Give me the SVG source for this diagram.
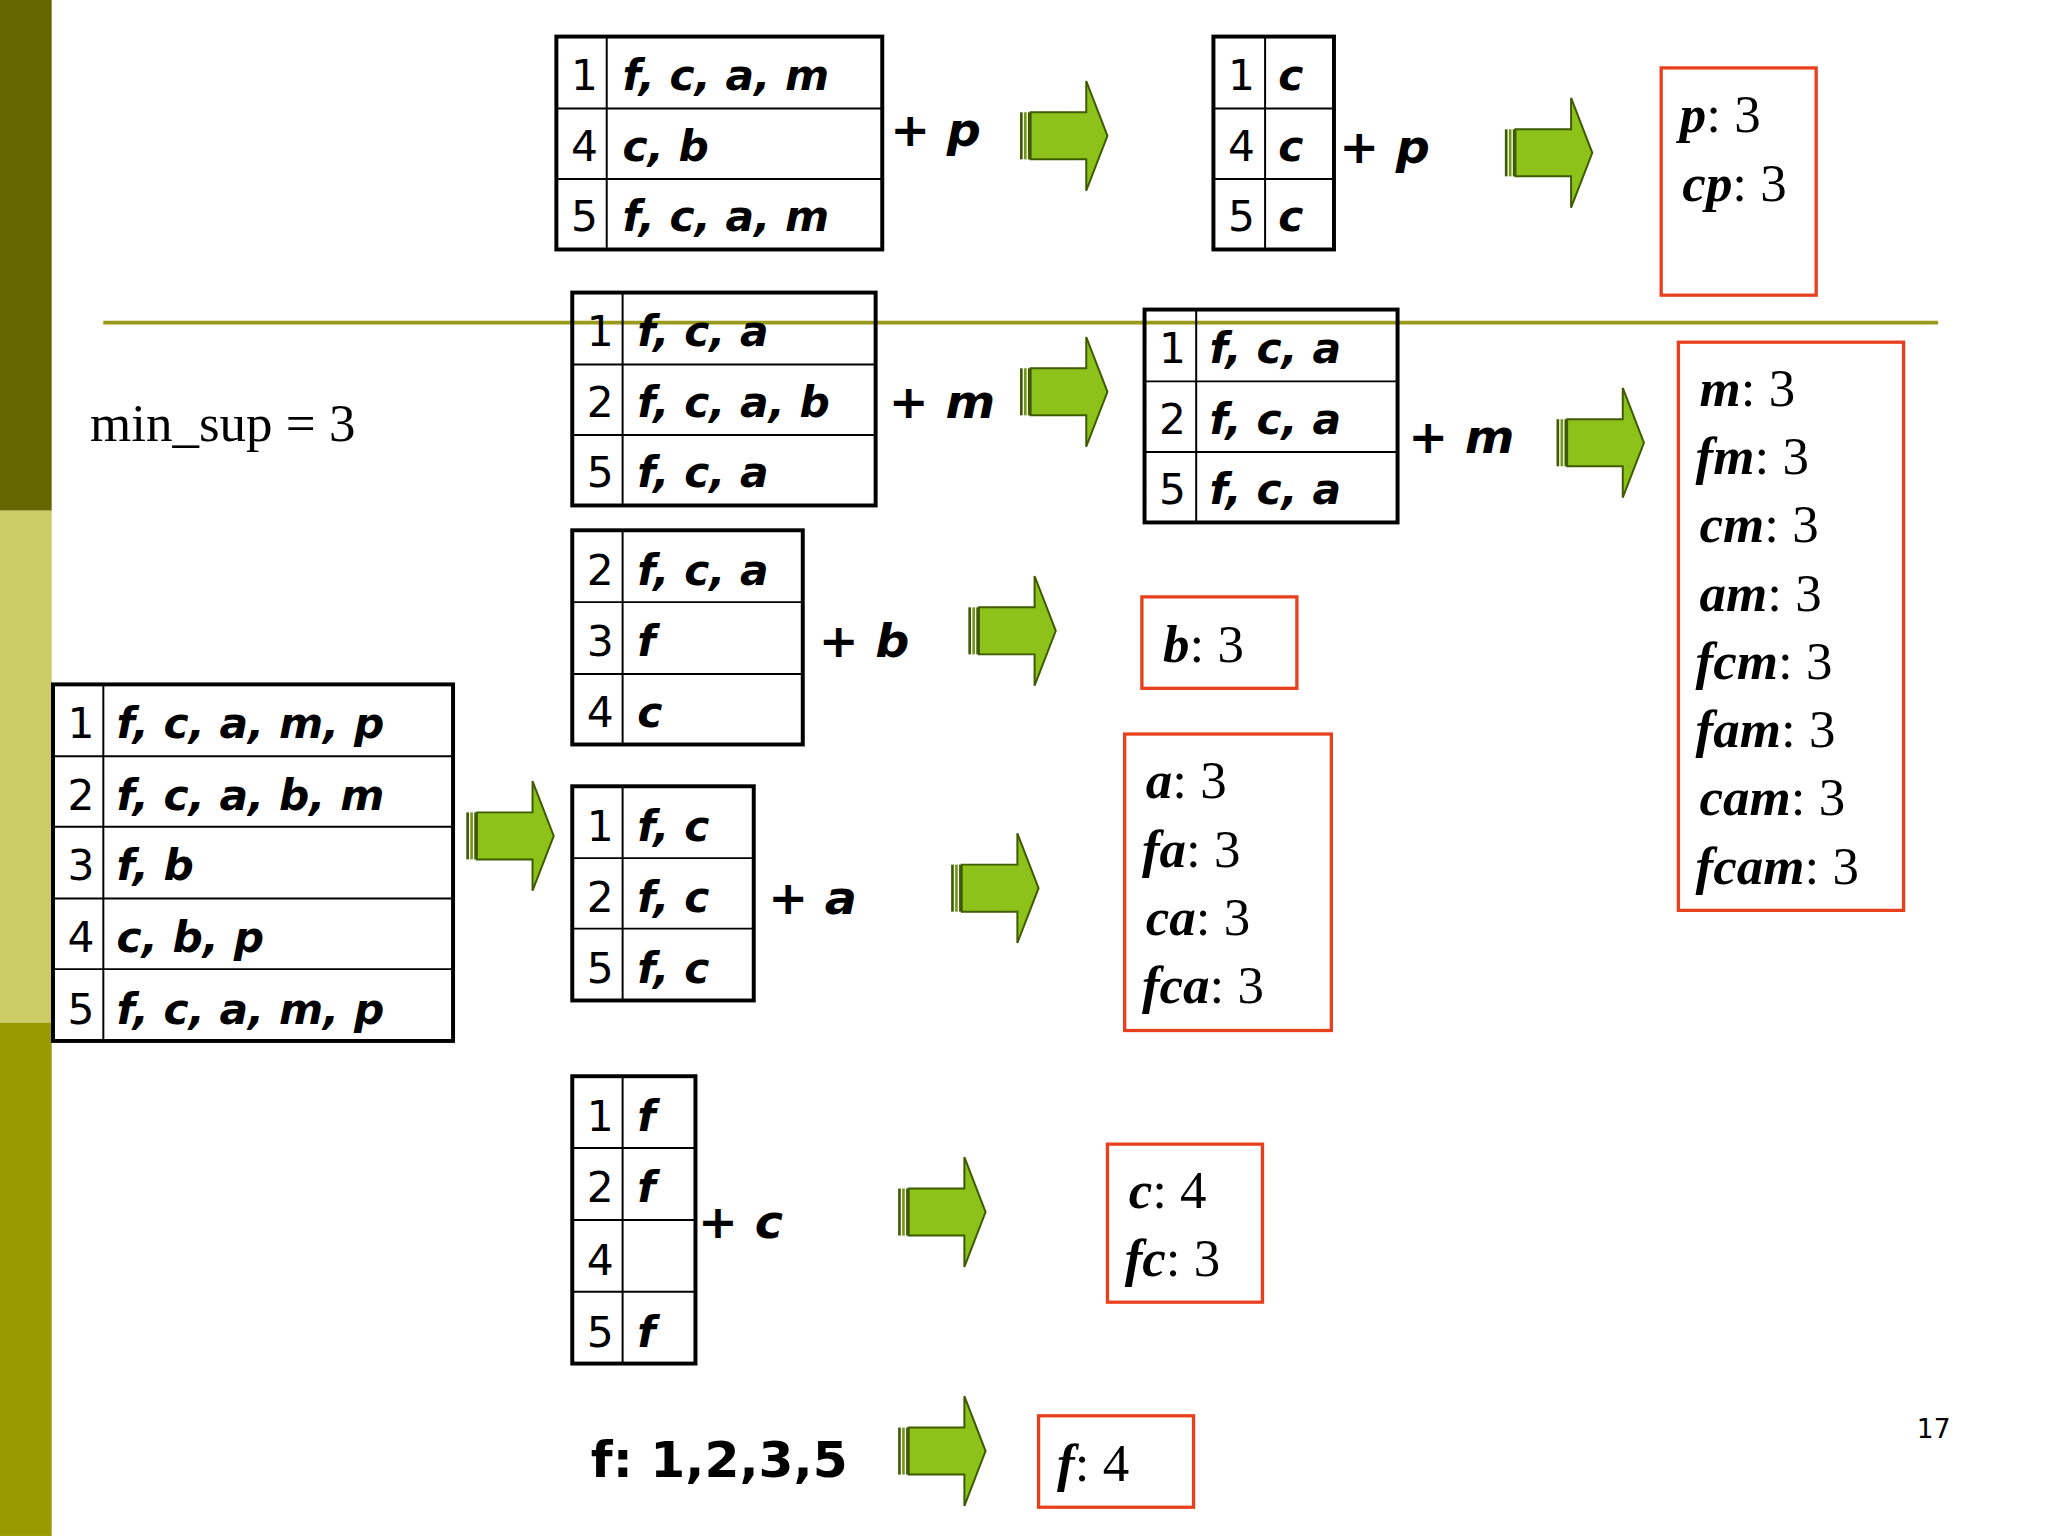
<svg xmlns="http://www.w3.org/2000/svg" xmlns:xlink="http://www.w3.org/1999/xlink" width="2048" height="1536" viewBox="0 0 2048 1536">
<style>
.tb{fill:none;stroke:#000;stroke-width:3}
.ln{stroke:#000;stroke-width:1.5}
.n{font-family:"DejaVu Sans",sans-serif;font-size:32px;fill:#000}
.it{font-family:"DejaVu Sans",sans-serif;font-size:32px;font-weight:bold;font-style:italic;fill:#000}
.pl{font-family:"DejaVu Sans",sans-serif;font-size:36px;font-weight:bold;fill:#000}
.pi{font-style:italic}
.rb{fill:none;stroke:#e8401c;stroke-width:2.5}
.r{font-family:"Liberation Serif",serif;font-size:40px;fill:#000}
.r tspan.k{font-weight:bold;font-style:italic}
</style>
<defs>
<g id="arrow">
<path d="M8 24 H50 V0 L66 42 L50 84 V60 H8 Z" fill="#8cc21a" stroke="#3f5a00" stroke-width="1.5"/>
<rect x="0" y="24" width="2" height="36" fill="#3f5a00"/>
<rect x="3" y="24" width="2" height="36" fill="#6d9a10"/>
<rect x="6" y="24" width="2" height="36" fill="#3f5a00"/>
</g>
</defs>
<rect width="2048" height="1536" fill="#fff"/>
<g transform="scale(1.3247 1.3061)">
<g id="sidebar">
<rect x="0" y="0" width="39" height="391" fill="#666600"/>
<rect x="0" y="391" width="39" height="392" fill="#cccc66"/>
<rect x="0" y="783" width="39" height="393" fill="#999900"/>
</g>
<line x1="78" y1="247" x2="1463" y2="247" stroke="#99991a" stroke-width="3"/>
<text x="68" y="338" class="r">min_sup = 3</text>

<g id="t1">
<rect x="420" y="28" width="246" height="163" class="tb"/>
<line x1="458" y1="28" x2="458" y2="191" class="ln"/>
<line x1="420" y1="83" x2="666" y2="83" class="ln"/><line x1="420" y1="137" x2="666" y2="137" class="ln"/>
<text x="431" y="69" class="n">1</text><text x="470" y="69" class="it">f, c, a, m</text>
<text x="431" y="123" class="n">4</text><text x="470" y="123" class="it">c, b</text>
<text x="431" y="177" class="n">5</text><text x="470" y="177" class="it">f, c, a, m</text>
<text x="672" y="112" class="pl">+ <tspan class="pi">p</tspan></text>
</g>
<g id="t2">
<rect x="916" y="28" width="91" height="163" class="tb"/>
<line x1="955" y1="28" x2="955" y2="191" class="ln"/>
<line x1="916" y1="83" x2="1007" y2="83" class="ln"/><line x1="916" y1="137" x2="1007" y2="137" class="ln"/>
<text x="927" y="69" class="n">1</text><text x="965" y="69" class="it">c</text>
<text x="927" y="123" class="n">4</text><text x="965" y="123" class="it">c</text>
<text x="927" y="177" class="n">5</text><text x="965" y="177" class="it">c</text>
<text x="1011" y="125" class="pl">+ <tspan class="pi">p</tspan></text>
</g>
<g id="t3">
<rect x="432" y="224" width="229" height="163" class="tb"/>
<line x1="470" y1="224" x2="470" y2="387" class="ln"/>
<line x1="432" y1="279" x2="661" y2="279" class="ln"/><line x1="432" y1="333" x2="661" y2="333" class="ln"/>
<text x="443" y="265" class="n">1</text><text x="481" y="265" class="it">f, c, a</text>
<text x="443" y="319" class="n">2</text><text x="481" y="319" class="it">f, c, a, b</text>
<text x="443" y="373" class="n">5</text><text x="481" y="373" class="it">f, c, a</text>
<text x="671" y="320" class="pl">+ <tspan class="pi">m</tspan></text>
</g>
<g id="t4">
<rect x="864" y="237" width="191" height="163" class="tb"/>
<line x1="903" y1="237" x2="903" y2="400" class="ln"/>
<line x1="864" y1="292" x2="1055" y2="292" class="ln"/><line x1="864" y1="346" x2="1055" y2="346" class="ln"/>
<text x="875" y="278" class="n">1</text><text x="913" y="278" class="it">f, c, a</text>
<text x="875" y="332" class="n">2</text><text x="913" y="332" class="it">f, c, a</text>
<text x="875" y="386" class="n">5</text><text x="913" y="386" class="it">f, c, a</text>
<text x="1063" y="347" class="pl">+ <tspan class="pi">m</tspan></text>
</g>
<g id="t5">
<rect x="432" y="406" width="174" height="164" class="tb"/>
<line x1="470" y1="406" x2="470" y2="570" class="ln"/>
<line x1="432" y1="461" x2="606" y2="461" class="ln"/><line x1="432" y1="516" x2="606" y2="516" class="ln"/>
<text x="443" y="448" class="n">2</text><text x="481" y="448" class="it">f, c, a</text>
<text x="443" y="502" class="n">3</text><text x="481" y="502" class="it">f</text>
<text x="443" y="557" class="n">4</text><text x="481" y="557" class="it">c</text>
<text x="618" y="503" class="pl">+ <tspan class="pi">b</tspan></text>
</g>
<g id="t0">
<rect x="40" y="524" width="302" height="273" class="tb"/>
<line x1="78" y1="524" x2="78" y2="797" class="ln"/>
<line x1="40" y1="579" x2="342" y2="579" class="ln"/><line x1="40" y1="633" x2="342" y2="633" class="ln"/>
<line x1="40" y1="688" x2="342" y2="688" class="ln"/><line x1="40" y1="742" x2="342" y2="742" class="ln"/>
<text x="51" y="565" class="n">1</text><text x="88" y="565" class="it">f, c, a, m, p</text>
<text x="51" y="620" class="n">2</text><text x="88" y="620" class="it">f, c, a, b, m</text>
<text x="51" y="674" class="n">3</text><text x="88" y="674" class="it">f, b</text>
<text x="51" y="729" class="n">4</text><text x="88" y="729" class="it">c, b, p</text>
<text x="51" y="784" class="n">5</text><text x="88" y="784" class="it">f, c, a, m, p</text>
</g>
<g id="t6">
<rect x="432" y="602" width="137" height="164" class="tb"/>
<line x1="470" y1="602" x2="470" y2="766" class="ln"/>
<line x1="432" y1="657" x2="569" y2="657" class="ln"/><line x1="432" y1="711" x2="569" y2="711" class="ln"/>
<text x="443" y="644" class="n">1</text><text x="481" y="644" class="it">f, c</text>
<text x="443" y="698" class="n">2</text><text x="481" y="698" class="it">f, c</text>
<text x="443" y="753" class="n">5</text><text x="481" y="753" class="it">f, c</text>
<text x="580" y="700" class="pl">+ <tspan class="pi">a</tspan></text>
</g>
<g id="t7">
<rect x="432" y="824" width="93" height="220" class="tb"/>
<line x1="470" y1="824" x2="470" y2="1044" class="ln"/>
<line x1="432" y1="879" x2="525" y2="879" class="ln"/><line x1="432" y1="934" x2="525" y2="934" class="ln"/><line x1="432" y1="989" x2="525" y2="989" class="ln"/>
<text x="443" y="866" class="n">1</text><text x="481" y="866" class="it">f</text>
<text x="443" y="920" class="n">2</text><text x="481" y="920" class="it">f</text>
<text x="443" y="976" class="n">4</text>
<text x="443" y="1031" class="n">5</text><text x="481" y="1031" class="it">f</text>
<text x="527" y="948" class="pl">+ <tspan class="pi">c</tspan></text>
</g>
<text x="446" y="1131" class="pl" style="font-size:38px">f: 1,2,3,5</text>

<g id="connectors">
<use xlink:href="#arrow" x="770" y="62"/>
<use xlink:href="#arrow" x="1136" y="75"/>
<use xlink:href="#arrow" x="770" y="258"/>
<use xlink:href="#arrow" x="1175" y="297"/>
<use xlink:href="#arrow" x="731" y="441"/>
<use xlink:href="#arrow" x="352" y="598"/>
<use xlink:href="#arrow" x="718" y="638"/>
<use xlink:href="#arrow" x="678" y="886"/>
<use xlink:href="#arrow" x="678" y="1069"/>
</g>

<g id="rp">
<rect x="1254" y="52" width="117" height="174" class="rb"/>
<text x="1268" y="101" class="r"><tspan class="k">p</tspan>: 3</text>
<text x="1270" y="154" class="r"><tspan class="k">cp</tspan>: 3</text>
</g>
<g id="rm">
<rect x="1267" y="262" width="170" height="435" class="rb"/>
<text x="1283" y="311" class="r"><tspan class="k">m</tspan>: 3</text>
<text x="1280" y="363" class="r"><tspan class="k">fm</tspan>: 3</text>
<text x="1283" y="415" class="r"><tspan class="k">cm</tspan>: 3</text>
<text x="1283" y="468" class="r"><tspan class="k">am</tspan>: 3</text>
<text x="1280" y="520" class="r"><tspan class="k">fcm</tspan>: 3</text>
<text x="1280" y="572" class="r"><tspan class="k">fam</tspan>: 3</text>
<text x="1283" y="624" class="r"><tspan class="k">cam</tspan>: 3</text>
<text x="1280" y="677" class="r"><tspan class="k">fcam</tspan>: 3</text>
</g>
<g id="rb">
<rect x="862" y="457" width="117" height="70" class="rb"/>
<text x="878" y="507" class="r"><tspan class="k">b</tspan>: 3</text>
</g>
<g id="ra">
<rect x="849" y="562" width="156" height="227" class="rb"/>
<text x="865" y="611" class="r"><tspan class="k">a</tspan>: 3</text>
<text x="862" y="664" class="r"><tspan class="k">fa</tspan>: 3</text>
<text x="865" y="716" class="r"><tspan class="k">ca</tspan>: 3</text>
<text x="862" y="768" class="r"><tspan class="k">fca</tspan>: 3</text>
</g>
<g id="rc">
<rect x="836" y="876" width="117" height="121" class="rb"/>
<text x="852" y="925" class="r"><tspan class="k">c</tspan>: 4</text>
<text x="849" y="977" class="r"><tspan class="k">fc</tspan>: 3</text>
</g>
<g id="rf">
<rect x="784" y="1084" width="117" height="70" class="rb"/>
<text x="798" y="1134" class="r"><tspan class="k">f</tspan>: 4</text>
</g>
<text x="1447" y="1101" style="font-family:'DejaVu Sans',sans-serif;font-size:20px">17</text>
</g>
</svg>
